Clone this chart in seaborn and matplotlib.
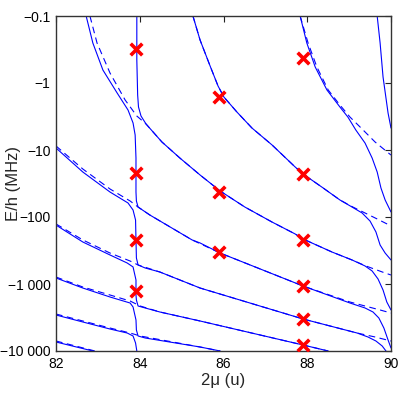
import numpy as np
import pandas as pd
import matplotlib
matplotlib.use("Agg")
import matplotlib.pyplot as plt
from matplotlib.ticker import FixedLocator, FixedFormatter
import seaborn as sns

sns.set_style("white")
plt.rcParams["font.family"] = ["Liberation Sans", "DejaVu Sans"]

# ---- coupled (solid) curves: mass 2mu (u), energy E/h (MHz) ----
top_mass = [83.93, 83.93, 83.95, 83.97, 84.03, 84.15, 84.53, 84.96, 85.44, 85.92, 86.51,
            87.16, 87.71, 87.90, 88.59, 89.07, 89.38, 89.55, 89.69, 89.81, 89.90, 90.0]
top_energy = [-0.1, -0.454, -1.51, -2.28, -3.11, -4.09, -7.6, -13.2, -23.6, -40.9, -71.0,
              -119, -179, -213, -333, -438, -538, -640, -841, -1230, -1857, -2443]

a2_mass = [82.72, 82.88, 83.12, 83.46, 83.72, 83.84, 83.89, 83.91, 83.91, 83.92, 83.96,
           84.24, 85.25, 85.44, 85.92, 87.90, 89.02, 89.38, 89.57, 89.71, 89.83, 89.93, 90.0]
a2_energy = [-0.1, -0.253, -0.640, -1.41, -2.53, -3.95, -5.97, -13.2, -42.4, -57.7, -71.0,
             -93.3, -220, -244, -345, -1072, -1922, -2280, -2617, -3217, -4540, -6852, -9018]

a3_mass = [82.0, 82.64, 83.29, 83.72, 83.84, 83.90, 83.91, 83.92, 83.96, 84.13, 84.48,
           85.44, 87.90, 89.19, 89.45, 89.64, 89.79, 89.88]
a3_energy = [-9.33, -21.3, -42.4, -61.8, -78.7, -111, -220, -409, -520, -577, -662,
             -1148, -3329, -5387, -6180, -7092, -8420, -10000]

a4_mass = [82.0, 82.64, 83.29, 83.70, 83.84, 83.91, 83.91, 83.92, 83.96, 84.13, 84.48,
           85.44, 87.90, 88.50]
a4_energy = [-132, -236, -369, -486, -557, -871, -1459, -1734, -2130, -2280, -2617,
             -3565, -8136, -10000]

a5_mass = [82.0, 82.64, 83.29, 83.77, 83.84, 83.91, 83.92, 83.96, 84.13, 85.44, 85.92]
a5_energy = [-813, -1148, -1563, -1922, -2203, -3445, -4863, -5971, -6395, -8714, -10000]

a6_mass = [82.0, 82.64, 83.29, 83.70, 83.84, 83.90, 83.93]
a6_energy = [-2902, -3689, -4699, -5387, -5971, -7597, -10000]

a7_mass = [82.0, 82.88]
a7_energy = [-7340, -10000]

s0_mass = [87.83, 87.99, 88.19, 88.47, 88.78, 88.97, 89.16, 89.38, 89.55, 89.67, 89.76,
           89.86, 90.0]
s0_energy = [-0.1, -0.253, -0.577, -1.27, -2.28, -3.22, -5.03, -7.87, -13.2, -21.3, -36.9,
             -55.7, -84.2]

s1_mass = [85.27, 85.44, 85.68, 85.87, 86.01, 86.32, 86.68, 87.16, 87.71, 87.90, 88.38,
           88.78, 89.07, 89.31, 89.50, 89.64, 89.74, 89.86, 90.0]
s1_energy = [-0.1, -0.228, -0.557, -1.11, -1.62, -2.71, -4.70, -8.42, -17.9, -22.8, -36.9,
             -55.7, -71.0, -87.1, -115, -167, -262, -345, -438]

c2_mass = [89.67, 89.74, 89.81, 89.93, 90.0]
c2_energy = [-0.1, -0.253, -0.813, -2.81, -4.70]

# ---- uncoupled (dashed) curves ----
d0_mass = [87.83, 88.02, 88.23, 88.50, 88.78, 89.02, 89.31, 89.62, 90.0]
d0_energy = [-0.1, -0.253, -0.577, -1.27, -2.13, -3.22, -4.86, -7.6, -11.9]

d1_mass = [85.27, 85.44, 85.68, 85.87, 86.01, 86.32, 86.68, 87.16, 87.71, 87.90, 88.38,
           88.78, 89.09, 89.38, 89.67, 90.0]
d1_energy = [-0.1, -0.228, -0.557, -1.11, -1.62, -2.71, -4.70, -8.42, -17.9, -22.8, -36.9,
             -55.7, -71.0, -87.1, -107, -136]

d2_mass = [82.81, 82.98, 83.29, 83.65, 83.93, 84.15, 84.53, 84.96, 85.44, 85.92, 86.51,
           87.16, 87.71, 87.90, 88.59, 89.07, 89.40, 89.86, 90.0]
d2_energy = [-0.1, -0.253, -0.710, -1.79, -3.11, -4.09, -7.6, -13.2, -23.6, -40.9, -71.0,
             -119, -179, -213, -333, -438, -538, -686, -734]

d3_mass = [82.0, 82.64, 83.29, 83.77, 83.96, 84.24, 85.25, 85.92, 87.90, 89.02, 89.38,
           89.74, 90.0]
d3_energy = [-8.71, -19.2, -38.2, -57.7, -71.0, -93.3, -220, -345, -1072, -1857, -2130,
             -2443, -2710]

d4_mass = [82.0, 82.64, 83.29, 83.77, 83.96, 84.48, 85.44, 87.90, 89.19, 89.62, 90.0]
d4_energy = [-127, -220, -345, -454, -520, -662, -1148, -3329, -5387, -6180, -7092]

d5_mass = [82.0, 82.64, 83.29, 83.77, 84.01, 84.48, 85.44, 87.90, 88.50]
d5_energy = [-787, -1109, -1459, -1795, -2130, -2617, -3565, -8136, -10000]

d6_mass = [82.0, 82.64, 83.29, 83.77, 84.01, 85.44, 85.92]
d6_energy = [-2806, -3565, -4540, -5387, -5971, -8714, -10000]

d7_mass = [82.0, 82.93]
d7_energy = [-7092, -10000]

# ---- measured resonances (red crosses) ----
cross_mass = [83.90, 83.90, 83.90, 83.90, 85.90, 85.90, 85.90,
              87.91, 87.91, 87.91, 87.91, 87.91, 87.91]
cross_energy = [-0.311, -22.0, -220, -1271, -1.62, -42.4, -333,
                -0.424, -22.8, -220, -1072, -3329, -8136]

y_ticks = [-0.1, -1, -10, -100, -1000, -10000]
y_tick_labels = ["\u22120.1", "\u22121", "\u221210", "\u2212100", "\u22121 000", "\u221210 000"]
x_ticks = [82, 84, 86, 88, 90]

solid = {"top": (top_mass, top_energy), "a2": (a2_mass, a2_energy),
         "a3": (a3_mass, a3_energy), "a4": (a4_mass, a4_energy),
         "a5": (a5_mass, a5_energy), "a6": (a6_mass, a6_energy),
         "a7": (a7_mass, a7_energy), "s0": (s0_mass, s0_energy),
         "s1": (s1_mass, s1_energy), "c2": (c2_mass, c2_energy)}
dashed = {"d0": (d0_mass, d0_energy), "d1": (d1_mass, d1_energy),
          "d2": (d2_mass, d2_energy), "d3": (d3_mass, d3_energy),
          "d4": (d4_mass, d4_energy), "d5": (d5_mass, d5_energy),
          "d6": (d6_mass, d6_energy), "d7": (d7_mass, d7_energy)}

rows = []
for kind, group in [("coupled", solid), ("uncoupled", dashed)]:
    for name, (m, e) in group.items():
        for mi, ei in zip(m, e):
            rows.append({"mass": mi, "energy": ei, "curve": name, "kind": kind})
curves = pd.DataFrame(rows)


# energy axis: logarithmic in |E|, most negative at the bottom
def fwd(y):
    return -np.log10(np.clip(-np.asarray(y, dtype=float), 1e-12, None))


def inv(t):
    return -10.0 ** (-np.asarray(t, dtype=float))


fig = plt.figure(figsize=(3.99, 4.0), dpi=100)
ax = fig.add_axes([56 / 399, 49 / 400, 335 / 399, 335 / 400])

sns.lineplot(data=curves, x="mass", y="energy", units="curve", estimator=None,
             sort=False, style="kind", dashes={"coupled": "", "uncoupled": (6, 4)},
             color="#0000ff", linewidth=0.8, legend=False, ax=ax)
sns.scatterplot(x=cross_mass, y=cross_energy, marker="x", color="#ff0000",
                s=70, linewidth=2.6, zorder=5, ax=ax)

ax.set_yscale("function", functions=(fwd, inv))
ax.set_ylim(-10000, -0.1)
ax.set_xlim(82, 90)
ax.yaxis.set_major_locator(FixedLocator(y_ticks))
ax.yaxis.set_major_formatter(FixedFormatter(y_tick_labels))
ax.yaxis.set_minor_locator(FixedLocator([]))
ax.set_xticks(x_ticks)
ax.set_xticklabels([str(v) for v in x_ticks])

ax.tick_params(direction="in", top=True, right=True, length=4, width=0.8,
               labelsize=10, colors="#222222", labelcolor="black")
ax.tick_params(axis="y", pad=4)
ax.tick_params(axis="x", pad=4)
for sp in ax.spines.values():
    sp.set_color("#333333")
    sp.set_linewidth(1.0)

ax.set_xlabel("2\u03bc (u)", fontsize=12)
ax.set_ylabel("E/h (MHz)", fontsize=12)
ax.xaxis.set_label_coords(0.5, -0.066)
ax.yaxis.set_label_coords(-0.103, 0.5)

fig.savefig("out.png", dpi=100)
